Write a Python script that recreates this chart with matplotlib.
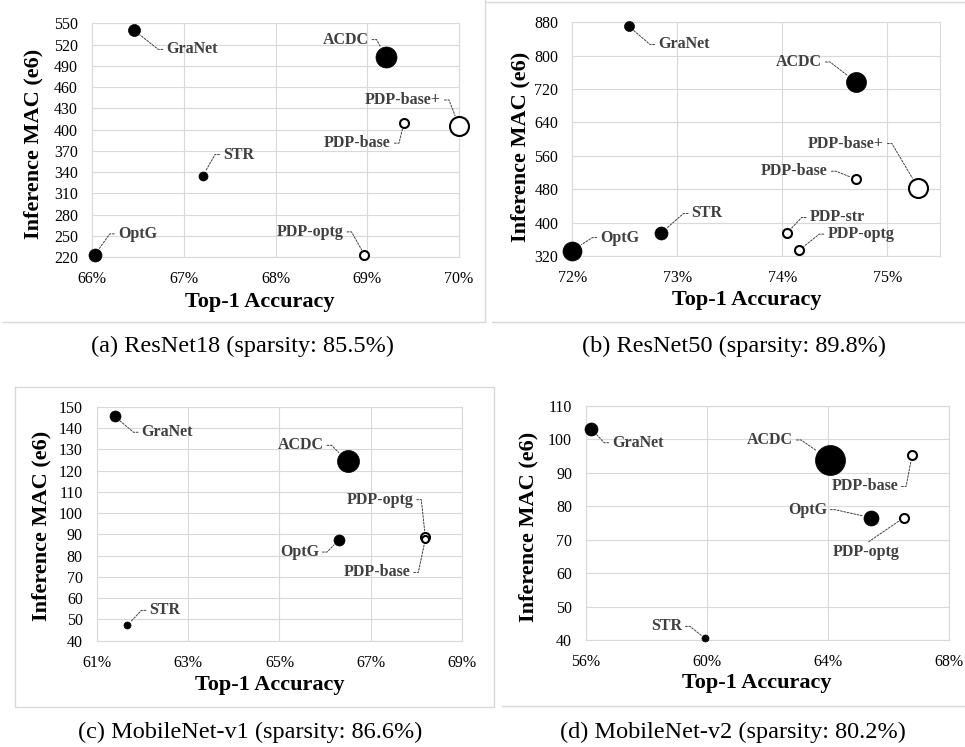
import math

import matplotlib
matplotlib.use("Agg")
import matplotlib.pyplot as plt
from matplotlib.lines import Line2D
from matplotlib.ticker import FuncFormatter

plt.rcParams['font.family'] = ['Liberation Serif', 'DejaVu Serif']

# (a) ResNet18
a_methods = ["OptG", "GraNet", "STR", "ACDC", "PDP-base", "PDP-base+", "PDP-optg"]
a_acc = [66.03, 66.46, 67.21, 69.20, 69.40, 70.00, 68.97]
a_mac = [223, 540, 335, 503, 409, 405, 223]
a_bubble = [13, 12, 9, 21, 9, 19, 9]

# (b) ResNet50
b_methods = ["OptG", "GraNet", "STR", "ACDC", "PDP-base", "PDP-base+", "PDP-str", "PDP-optg"]
b_acc = [72.00, 72.54, 72.84, 74.70, 74.70, 75.29, 74.04, 74.16]
b_mac = [333, 870, 374, 737, 504, 484, 374, 334]
b_bubble = [19, 10, 13, 20, 9, 19, 9, 9]

# (c) MobileNet-v1
c_methods = ["OptG", "GraNet", "STR", "ACDC", "PDP-optg", "PDP-base"]
c_acc = [66.30, 61.39, 61.67, 66.49, 68.19, 68.19]
c_mac = [87.3, 145.5, 47.2, 124.3, 88.9, 87.6]
c_bubble = [11, 11, 7, 22, 9, 7]

# (d) MobileNet-v2
d_methods = ["OptG", "GraNet", "STR", "ACDC", "PDP-base", "PDP-optg"]
d_acc = [65.41, 56.17, 59.93, 64.06, 66.77, 66.50]
d_mac = [76.6, 103.2, 40.5, 93.85, 95.2, 76.6]
d_bubble = [15, 13, 7, 30, 9, 9]

captions = ["(a) ResNet18 (sparsity: 85.5%)", "(b) ResNet50 (sparsity: 89.8%)",
            "(c) MobileNet-v1 (sparsity: 86.6%)", "(d) MobileNet-v2 (sparsity: 80.2%)"]

# label placement: offset of the label's near edge from the bubble, in pixels
label_pos = {
    "a": {"OptG": (23, 21, "left"), "GraNet": (32, -19, "left"), "STR": (20, 21, "left"),
          "ACDC": (-17, 17, "right"), "PDP-base": (-13, -20, "right"),
          "PDP-base+": (-18, 26, "right"), "PDP-optg": (-21, 23, "right")},
    "b": {"OptG": (28, 13, "left"), "GraNet": (29, -18, "left"), "STR": (31, 20, "left"),
          "ACDC": (-34, 20, "right"), "PDP-base": (-28, 8, "right"),
          "PDP-base+": (-34, 44, "right"), "PDP-str": (23, 16, "left"),
          "PDP-optg": (28, 16, "left")},
    "c": {"OptG": (-20, -12, "right"), "GraNet": (27, -16, "left"), "STR": (22, 15, "left"),
          "ACDC": (-24, 16, "right"), "PDP-optg": (-12, 37, "right"),
          "PDP-base": (-15, -33, "right")},
    "d": {"OptG": (-44, 8, "right"), "GraNet": (21, -14, "left"), "STR": (-23, 12, "right"),
          "ACDC": (-37, 20, "right"), "PDP-base": (-14, -31, "right"),
          "PDP-optg": (-38, -34, "center")},
}

panels = [
    dict(key="a", m=a_methods, x=a_acc, y=a_mac, s=a_bubble,
         rect=(92, 23.3, 459, 257), xlim=(66, 70), xticks=range(66, 71),
         ylim=(220, 550), yticks=range(220, 551, 30),
         xl=(260, 301.7), yl=(33, 144), cap=(243, 352)),
    dict(key="b", m=b_methods, x=b_acc, y=b_mac, s=b_bubble,
         rect=(572.3, 22.3, 940, 256), xlim=(72, 75.5), xticks=range(72, 76),
         ylim=(320, 880), yticks=range(320, 881, 80),
         xl=(747, 300), yl=(520, 147), cap=(734, 352)),
    dict(key="c", m=c_methods, x=c_acc, y=c_mac, s=c_bubble,
         rect=(96.7, 406.7, 462.3, 640.7), xlim=(61, 69), xticks=range(61, 70, 2),
         ylim=(40, 150), yticks=range(40, 151, 10),
         xl=(270, 685), yl=(41.7, 526), cap=(250, 738)),
    dict(key="d", m=d_methods, x=d_acc, y=d_mac, s=d_bubble,
         rect=(586, 406, 949.3, 640), xlim=(56, 68), xticks=range(56, 69, 4),
         ylim=(40, 110), yticks=range(40, 111, 10),
         xl=(757, 683), yl=(528, 527), cap=(733, 738)),
]

W, H = 965, 747
PX = 72 / 100  # points per pixel
grid_c = "#d9d9d9"
lab_c = "#404040"

fig = plt.figure(figsize=(W / 100, H / 100), dpi=100)

for i, p in enumerate(panels):
    x0, y0, x1, y1 = p["rect"]
    ax = fig.add_axes([x0 / W, 1 - y1 / H, (x1 - x0) / W, (y1 - y0) / H])
    ax.set_xlim(*p["xlim"])
    ax.set_ylim(*p["ylim"])
    ax.set_xticks(list(p["xticks"]))
    ax.set_yticks(list(p["yticks"]))
    ax.xaxis.set_major_formatter(FuncFormatter(lambda v, pos: f"{v:.0f}%"))
    ax.tick_params(length=0, pad=10, labelsize=11.5)
    ax.grid(True, color=grid_c, lw=0.8)
    ax.set_axisbelow(True)
    for sp in ax.spines.values():
        sp.set_color(grid_c)
        sp.set_linewidth(0.8)

    ax.set_xlabel("Top-1 Accuracy", fontsize=16, fontweight="bold")
    ax.set_ylabel("Inference MAC (e6)", fontsize=16, fontweight="bold")
    ax.xaxis.set_label_coords((p["xl"][0] - x0) / (x1 - x0), (y1 - p["xl"][1]) / (y1 - y0))
    ax.yaxis.set_label_coords((p["yl"][0] - x0) / (x1 - x0), (y1 - p["yl"][1]) / (y1 - y0))
    ax.xaxis.label.set_va("center")
    ax.yaxis.label.set_va("center")

    for name, xv, yv, d in zip(p["m"], p["x"], p["y"], p["s"]):
        is_pdp = name.startswith("PDP")
        ax.scatter([xv], [yv], s=(d * PX) ** 2,
                   facecolor="white" if is_pdp else "black",
                   edgecolor="black", linewidth=1.5 if is_pdp else 0.5,
                   zorder=3, clip_on=False)

        dx, dy, ha = label_pos[p["key"]][name]
        if ha == "center":
            relpos = (0.5, 1.0)
            conn = "arc3"
        else:
            sgn = 1 if ha == "left" else -1
            relpos = (0.0, 0.5) if ha == "left" else (1.0, 0.5)
            ex = dx - sgn * 8
            ang = math.degrees(math.atan2(dy, ex))
            conn = f"angle,angleA=0,angleB={ang:.2f},rad=0"
        ax.annotate(name, xy=(xv, yv), xytext=(dx, dy), textcoords="offset pixels",
                    ha=ha, va="center", fontsize=11.5, fontweight="bold", color=lab_c,
                    zorder=4, annotation_clip=False,
                    arrowprops=dict(arrowstyle="-", color=lab_c, lw=0.7,
                                    linestyle=(0, (2, 1.5)), connectionstyle=conn,
                                    relpos=relpos, patchA=None, shrinkA=2.5,
                                    shrinkB=d * PX / 2 + 1))

    fig.text(p["cap"][0] / W, 1 - p["cap"][1] / H, captions[i],
             ha="center", va="baseline", fontsize=17.5)

# light frames around the cropped chart areas
frames = [
    [(485.3, 0), (485.3, 322), (3, 322)],
    [(485, 1.7), (965, 1.7)],
    [(492, 322), (965, 322)],
    [(15, 386.7), (494, 386.7), (494, 707), (15, 707), (15, 386.7)],
    [(502, 706), (965, 706)],
]
for pts in frames:
    xs = [q[0] / W for q in pts]
    ys = [1 - q[1] / H for q in pts]
    fig.add_artist(Line2D(xs, ys, color=grid_c, lw=1, transform=fig.transFigure))

fig.savefig("out.png", dpi=100)
